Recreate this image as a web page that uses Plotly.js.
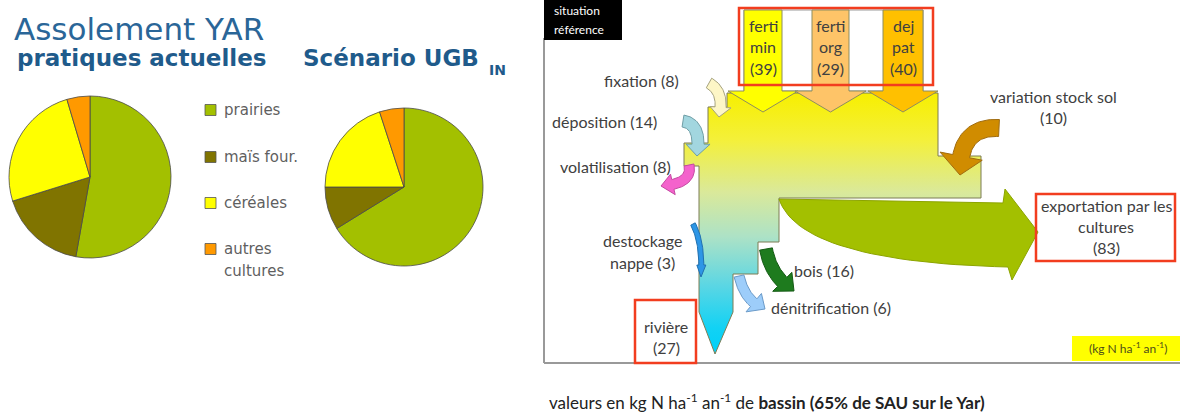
<!DOCTYPE html>
<html>
<head>
<meta charset="utf-8">
<script src="https://cdn.plot.ly/plotly-3.0.1.min.js"></script>
<style>html,body{margin:0;padding:0;background:#fff;}#chart{width:1182px;height:414px;}</style>
</head>
<body>
<div id="chart"></div>
<script>
// ---------- DATA ----------
const cultures = ['prairies', 'maïs four.', 'céréales', 'autres cultures'];
const assolementActuel = [52.8, 17.4, 25.2, 4.6];     // % pratiques actuelles
const assolementUGB = [66.2, 8.8, 20.0, 5.0];         // % scénario UGB IN
const fluxNoms = ['ferti min', 'ferti org', 'dej pat', 'fixation', 'déposition',
  'variation stock sol', 'destockage nappe', 'volatilisation',
  'exportation par les cultures', 'bois', 'dénitrification', 'rivière'];
const fluxValeurs = [39, 29, 40, 8, 14, 10, 3, 8, 83, 16, 6, 27]; // kg N ha-1 an-1

// ---------- STYLE / LAYOUT ----------
const W = 1182, H = 414;
const cultureColors = ['#a3c000', '#807400', '#ffff00', '#ff9900'];
const val = n => fluxValeurs[fluxNoms.indexOf(n)];
const txtFont = {family: 'Lato, sans-serif', size: 16, color: '#404040'};

function poly(pts) {
  return {x: pts.map(p => p[0]).concat([pts[0][0]]), y: pts.map(p => p[1]).concat([pts[0][1]])};
}
function curvedArrow(p0, p1, p2, w, hw, hl) {
  const B = t => [(1-t)*(1-t)*p0[0] + 2*(1-t)*t*p1[0] + t*t*p2[0], (1-t)*(1-t)*p0[1] + 2*(1-t)*t*p1[1] + t*t*p2[1]];
  const D = t => [2*(1-t)*(p1[0]-p0[0]) + 2*t*(p2[0]-p1[0]), 2*(1-t)*(p1[1]-p0[1]) + 2*t*(p2[1]-p1[1])];
  const N = 300; const cum = [0]; let prev = B(0);
  for (let i = 1; i <= N; i++) { const b = B(i/N); cum.push(cum[i-1] + Math.hypot(b[0]-prev[0], b[1]-prev[1])); prev = b; }
  const L = cum[N]; let th = 1;
  for (let i = 0; i <= N; i++) { if (cum[i] >= L - hl) { th = i/N; break; } }
  const left = [], right = [];
  const n = 30;
  for (let i = 0; i <= n; i++) {
    const t = th * i / n; const b = B(t); const d = D(t); const m = Math.hypot(d[0], d[1]) || 1;
    const nx = -d[1]/m, ny = d[0]/m;
    left.push([b[0] + nx*w/2, b[1] + ny*w/2]); right.push([b[0] - nx*w/2, b[1] - ny*w/2]);
  }
  const b = B(th); const d = D(th); const m = Math.hypot(d[0], d[1]) || 1;
  const nx = -d[1]/m, ny = d[0]/m;
  const pts = left.concat([[b[0] + nx*hw/2, b[1] + ny*hw/2], p2, [b[0] - nx*hw/2, b[1] - ny*hw/2]]).concat(right.reverse());
  return poly(pts);
}
function shapeTrace(xy, fill, line, extra) {
  return Object.assign({type: 'scatter', mode: 'lines', x: xy.x, y: xy.y, fill: 'toself',
    fillcolor: fill, line: {color: line, width: 1}, hoverinfo: 'skip', showlegend: false}, extra || {});
}

const traces = [];
// pies
traces.push({type: 'pie', labels: cultures, values: assolementActuel, sort: false, direction: 'clockwise', rotation: 0,
  marker: {colors: cultureColors, line: {color: '#4a4a4a', width: 0.8}}, textinfo: 'none', hoverinfo: 'skip', showlegend: false,
  domain: {x: [9/W, 171/W], y: [1 - 258/H, 1 - 96/H]}});
traces.push({type: 'pie', labels: cultures, values: assolementUGB, sort: false, direction: 'clockwise', rotation: 0,
  marker: {colors: cultureColors, line: {color: '#4a4a4a', width: 0.8}}, textinfo: 'none', hoverinfo: 'skip', showlegend: false,
  domain: {x: [325/W, 483/W], y: [1 - 266/H, 1 - 108/H]}});

// main body of the flow (gradient)
const corps = [[727,93],[938,93],[938,156],[981,156],[981,198],[779,198],[779,242],[758,242],[758,274],[733,274],[733,312],[715,354],[699,312],[699,166],[684,166],[684,143],[708,143],[708,107],[727,107]];
traces.push(shapeTrace(poly(corps), '#e8ee60', '#7d7d55', {fillgradient: {type: 'vertical', start: 93, stop: 354,
  colorscale: [[0,'#f7ef00'],[0.18,'#f4f03a'],[0.38,'#dae99a'],[0.55,'#ade2c6'],[0.74,'#5ad6e4'],[0.9,'#12d2f4'],[1,'#00d0f8']]}}));

// export arrow
(function () {
  const top = [[779,199],[1003,203],[1005,189],[1038,232],[1012,280],[1008,267]];
  const low = [];
  const a = [1008,267], c = [800,262], e = [779,199];
  for (let i = 1; i < 30; i++) { const t = i/30; low.push([(1-t)*(1-t)*a[0] + 2*(1-t)*t*c[0] + t*t*e[0], (1-t)*(1-t)*a[1] + 2*(1-t)*t*c[1] + t*t*e[1]]); }
  traces.push(shapeTrace(poly(top.concat(low)), '#a3c000', '#8ca400'));
})();

// fertiliser input arrows
const fertiGeo = [
  {n: 'ferti min', x0: 744, x1: 782, h0: 728, h1: 798, c: '#ffff00'},
  {n: 'ferti org', x0: 812, x1: 849, h0: 795, h1: 866, c: '#fec468'},
  {n: 'dej pat', x0: 883, x1: 923, h0: 868, h1: 938, c: '#ffc000'}
];
fertiGeo.forEach(g => {
  const cx = (g.h0 + g.h1) / 2;
  traces.push(shapeTrace(poly([[g.x0,10],[g.x1,10],[g.x1,91],[g.h1,91],[cx,112],[g.h0,91],[g.x0,91]]), g.c, '#8d8d60'));
});

// curved arrows
const arrows = [
  {p0:[709,83], p1:[725,92], p2:[719,117], w:11, hw:21, hl:10, c:'#fdf6c6', l:'#a5a27e'},   // fixation
  {p0:[683,121], p1:[702,124], p2:[697,156], w:12, hw:24, hl:12, c:'#a2d6df', l:'#6f9ea6'},  // deposition
  {p0:[689,165], p1:[693,184], p2:[661,186], w:10, hw:21, hl:12, c:'#f462cc', l:'#c44aa2'},   // volatilisation
  {p0:[999,128], p1:[958,126], p2:[960,175], w:17, hw:43, hl:19, c:'#d08c00', l:'#a06c10'},  // variation stock sol
  {p0:[693,224], p1:[703,243], p2:[701,277], w:5, hw:9, hl:12, c:'#2d96e6', l:'#2070b0'},    // destockage nappe
  {p0:[766,249], p1:[771,277], p2:[794,291], w:13, hw:27, hl:15, c:'#1e7b1e', l:'#145a14'},  // bois
  {p0:[739,276], p1:[745,302], p2:[765,309], w:10, hw:24, hl:13, c:'#9dcdfa', l:'#6a9ac8'}   // denitrification
];
arrows.forEach(a => traces.push(shapeTrace(curvedArrow(a.p0, a.p1, a.p2, a.w, a.hw, a.hl), a.c, a.l)));

// ---------- shapes ----------
const red = {color: '#f23d1f', width: 2.5};
const shapes = [
  {type:'rect', xref:'x', yref:'y', x0:744, x1:923, y0:10, y1:91, fillcolor:'#ffffff', line:{color:'#9a9a9a', width:1}, layer:'below'},
  {type:'line', xref:'x', yref:'y', x0:544, x1:544, y0:38, y1:363, line:{color:'#777', width:1.5}},
  {type:'line', xref:'x', yref:'y', x0:544, x1:1180, y0:363, y1:363, line:{color:'#999', width:2}},
  {type:'rect', xref:'x', yref:'y', x0:544, x1:622, y0:0, y1:40, fillcolor:'#000', line:{width:0}},
  {type:'rect', xref:'x', yref:'y', x0:1072, x1:1180, y0:336, y1:361, fillcolor:'#ffff00', line:{width:0}},
  {type:'rect', xref:'x', yref:'y', x0:739, x1:933, y0:8, y1:85, line:red, layer:'above'},
  {type:'rect', xref:'x', yref:'y', x0:1036, x1:1175, y0:194, y1:261, line:red, layer:'above'},
  {type:'rect', xref:'x', yref:'y', x0:635, x1:696, y0:300, y1:363, line:red, layer:'above'}
];
// legend squares
const legY = [110, 157, 203, 249];
cultures.forEach((c, i) => shapes.push({type:'rect', xref:'x', yref:'y', x0:205, x1:216, y0:legY[i]-5.5, y1:legY[i]+5.5,
  fillcolor: cultureColors[i], line:{color:'#555', width:0.8}}));

// ---------- annotations ----------
function txt(x, y, text, opt) {
  return Object.assign({x: x, y: y, xref: 'x', yref: 'y', text: text, showarrow: false, xanchor: 'center', yanchor: 'middle', font: txtFont}, opt || {});
}
const ann = [];
const blue = '#1f5b8b';
ann.push(txt(12, 29, 'Assolement YAR', {xanchor:'left', font:{family:'DejaVu Sans', size:31, color:'#2a6698'}}));
ann.push(txt(15, 58, '<b>pratiques actuelles</b>', {xanchor:'left', font:{family:'DejaVu Sans', size:23, color:blue}}));
ann.push(txt(301, 58, '<b>Scénario UGB</b>', {xanchor:'left', font:{family:'DejaVu Sans', size:23, color:blue}}));
ann.push(txt(487, 70, '<b>IN</b>', {xanchor:'left', font:{family:'DejaVu Sans', size:14, color:blue}}));
// legend labels
const legFont = {family:'DejaVu Sans', size:15, color:'#5f5f5f'};
ann.push(txt(222, legY[0], cultures[0], {xanchor:'left', font:legFont}));
ann.push(txt(222, legY[1], cultures[1], {xanchor:'left', font:legFont}));
ann.push(txt(222, legY[2], cultures[2], {xanchor:'left', font:legFont}));
const autres = cultures[3].split(' ');
ann.push(txt(222, legY[3], autres[0], {xanchor:'left', font:legFont}));
ann.push(txt(222, legY[3] + 22, autres[1], {xanchor:'left', font:legFont}));

// diagram labels
ann.push(txt(552, 10, 'situation', {xanchor:'left', font:{family:'Lato', size:12, color:'#fff'}}));
ann.push(txt(552, 29, 'référence', {xanchor:'left', font:{family:'Lato', size:12, color:'#fff'}}));
fertiGeo.forEach(g => {
  const cx = (g.x0 + g.x1) / 2; const parts = g.n.split(' ');
  ann.push(txt(cx, 25, parts[0]));
  ann.push(txt(cx, 46, parts[1]));
  ann.push(txt(cx, 68, '(' + val(g.n) + ')'));
});
ann.push(txt(641, 80, 'fixation (' + val('fixation') + ')'));
ann.push(txt(604, 121, 'déposition (' + val('déposition') + ')'));
ann.push(txt(615, 166, 'volatilisation (' + val('volatilisation') + ')'));
ann.push(txt(1053, 96, 'variation stock sol'));
ann.push(txt(1053, 117, '(' + val('variation stock sol') + ')'));
ann.push(txt(642, 240, 'destockage'));
ann.push(txt(642, 262, 'nappe (' + val('destockage nappe') + ')'));
ann.push(txt(666, 326, 'rivière'));
ann.push(txt(666, 347, '(' + val('rivière') + ')'));
ann.push(txt(792, 270, 'bois (' + val('bois') + ')', {xanchor:'left'}));
ann.push(txt(769, 307, 'dénitrification (' + val('dénitrification') + ')', {xanchor:'left'}));
ann.push(txt(1106, 205, 'exportation par les'));
ann.push(txt(1106, 226, 'cultures'));
ann.push(txt(1106, 247, '(' + val('exportation par les cultures') + ')'));
ann.push(txt(1128, 348, '(kg N ha<sup>-1</sup> an<sup>-1</sup>)', {font:{family:'Lato', size:12, color:'#4d4d1a'}}));
ann.push(txt(547, 401, 'valeurs en kg N ha<sup>-1</sup> an<sup>-1</sup> de <b>bassin (65% de SAU sur le Yar)</b>', {xanchor:'left', font:{family:'Lato', size:17, color:'#222'}}));

const layout = {
  width: W, height: H, margin: {l:0, r:0, t:0, b:0}, paper_bgcolor: '#fff', plot_bgcolor: 'rgba(0,0,0,0)',
  xaxis: {range: [0, W], visible: false, fixedrange: true},
  yaxis: {range: [H, 0], visible: false, fixedrange: true},
  showlegend: false, hovermode: false, shapes: shapes, annotations: ann,
  font: {family: 'DejaVu Sans'}
};
Plotly.newPlot('chart', traces, layout, {staticPlot: true, displayModeBar: false});
</script>
</body>
</html>
